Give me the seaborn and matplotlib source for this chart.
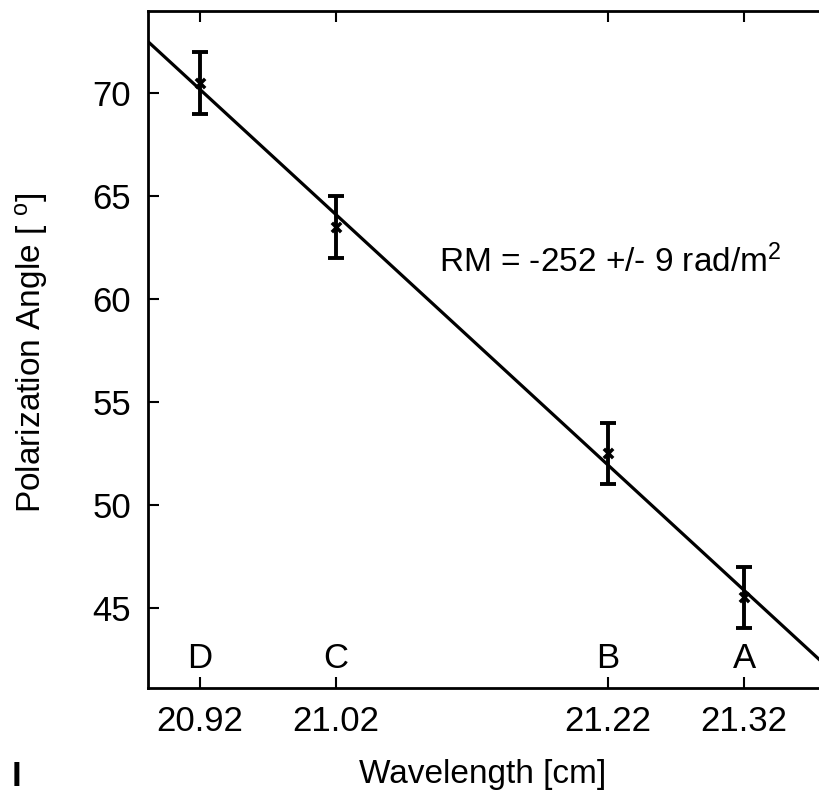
import matplotlib
matplotlib.use("Agg")
import matplotlib.pyplot as plt
import seaborn as sns
import numpy as np
import pandas as pd

# Data
labels = ["D", "C", "B", "A"]
wavelength = [20.92, 21.02, 21.22, 21.32]
angle = [70.5, 63.5, 52.5, 45.5]
angle_err = [1.5, 1.5, 1.5, 1.5]
fit_slope = -60.9          # deg per cm
fit_ref_x = 20.92
fit_ref_y = 70.2
xticks = [20.92, 21.02, 21.22, 21.32]
yticks = [45, 50, 55, 60, 65, 70]
annotation = "RM = -252 +/- 9 rad/m$^2$"

sns.set_style("ticks")
plt.rcParams['font.family'] = ['Liberation Sans', 'DejaVu Sans']
plt.rcParams['mathtext.fontset'] = 'custom'
plt.rcParams['mathtext.rm'] = 'Liberation Sans'
plt.rcParams['mathtext.it'] = 'Liberation Sans'
plt.rcParams['text.color'] = 'black'
plt.rcParams['axes.labelcolor'] = 'black'
plt.rcParams['xtick.color'] = 'black'
plt.rcParams['ytick.color'] = 'black'

FS = 25
FL = 24

df = pd.DataFrame({"wavelength": wavelength, "angle": angle, "err": angle_err, "label": labels})

fig = plt.figure(figsize=(8.19, 7.93), dpi=100)
W, H = 819, 793
left, right, top, bottom = 148, 830, 11, 688
ax = fig.add_axes([left / W, (H - bottom) / H, (right - left) / W, (bottom - top) / H])

# fit line
ax.axline((fit_ref_x, fit_ref_y), slope=fit_slope, color="black", lw=2.3, zorder=2)

# error bars
ax.errorbar(df["wavelength"], df["angle"], yerr=df["err"], fmt="none",
            ecolor="black", elinewidth=2.8, capsize=6, capthick=2.8, zorder=3)
sns.scatterplot(data=df, x="wavelength", y="angle", marker="x", color="black",
                s=45, linewidth=2.5, ax=ax, zorder=4)

for lab, xv in zip(labels, wavelength):
    ax.text(xv, 42.55, lab, ha="center", va="center", fontsize=FS)

ax.text(21.096, 61.8, annotation, ha="left", va="center", fontsize=FL)

ax.set_xlim(20.882, 21.383)
ax.set_ylim(41.1, 74.0)
ax.set_xticks(xticks)
ax.set_xticklabels([f"{v:.2f}" for v in xticks])
ax.set_yticks(yticks)

ax.tick_params(axis="both", which="both", direction="in", length=8, width=1.5,
               top=True, right=True, labelsize=FS, pad=12, color="black",
               labelcolor="black")
for s in ax.spines.values():
    s.set_linewidth(2)
    s.set_color("black")
    s.set_visible(True)

ax.set_xlabel("Wavelength [cm]", fontsize=FL)
ax.set_ylabel("Polarization Angle [ $^\\mathrm{o}$]", fontsize=FL)
ax.xaxis.set_label_coords((483 - left) / (right - left), -(775 - bottom) / (bottom - top))
ax.yaxis.set_label_coords((31 - left) / (right - left), (bottom - 353) / (bottom - top))
ax.xaxis.label.set_va("center")
ax.yaxis.label.set_va("center")

fig.text(12 / W, 1 - 776 / H, "I", fontsize=FS, fontweight="bold", ha="left", va="center")

fig.savefig("out.png", dpi=100)
